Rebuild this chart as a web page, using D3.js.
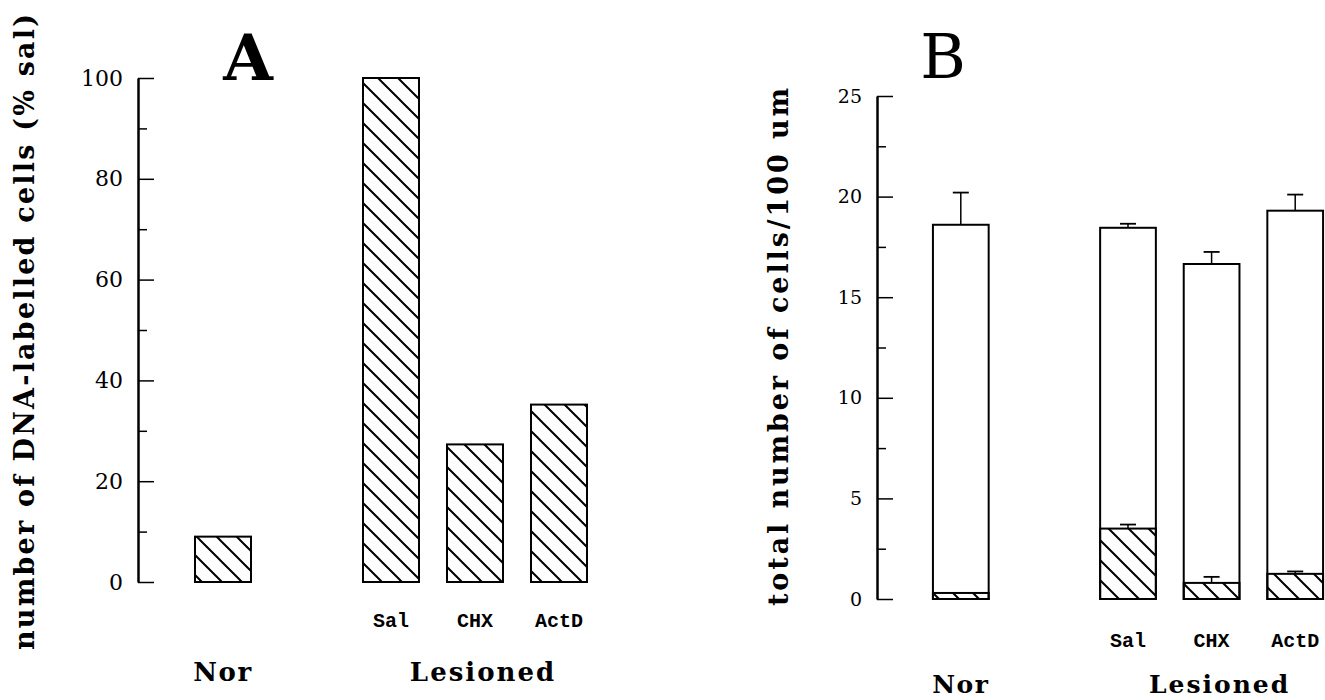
<!DOCTYPE html>
<html lang="en">
  <head>
    <meta charset="UTF-8">
    <script src="https://d3js.org/d3.v7.min.js"></script>
    <title>DNA-labelled cells</title>
    <style>
      body { margin: 0; background: #fff; }
      svg { display: block; }
      .tick text { font-family: "DejaVu Serif", serif; fill: #000; }
      .lbl { font-family: "DejaVu Serif", serif; font-weight: bold; fill: #000; }
      .cat { font-family: "Liberation Mono", monospace; font-weight: bold; font-size: 20px; fill: #000; }
    </style>
  </head>
  <body>
    <div id="chart"></div>
    <script>
      // values
      const groups = ["Nor", "Sal", "CHX", "ActD"];
      const slots = ["Nor", "", "Sal", "CHX", "ActD"];
      const labelledPct = [9, 100, 27.3, 35.2];           // panel A
      const totalCells = [18.6, 18.45, 16.65, 19.3];       // panel B, open bars
      const totalErr = [1.6, 0.2, 0.6, 0.8];
      const labelledCells = [0.3, 3.5, 0.8, 1.25];         // panel B, hatched part
      const labelledErr = [0, 0.2, 0.3, 0.12];
      const ticksA = [0, 20, 40, 60, 80, 100];
      const ticksB = [0, 5, 10, 15, 20, 25];

      const svg = d3.select("#chart").append("svg")
        .attr("width", 1325).attr("height", 700);

      // hatch pattern (\\\)
      svg.append("defs").append("pattern")
        .attr("id", "hatch")
        .attr("patternUnits", "userSpaceOnUse")
        .attr("width", 20).attr("height", 20)
        .append("path")
        .attr("d", "M0,0L20,20M-5,15L5,25M15,-5L25,5")
        .attr("stroke", "#000").attr("stroke-width", 2);

      const drawAxis = (y, ticks, minor, xPos, fontSize) => {
        const g = svg.append("g").attr("transform", `translate(${xPos},0)`);
        g.call(d3.axisLeft(y).tickValues(ticks).tickSizeInner(-16).tickSizeOuter(0).tickPadding(15));
        g.select(".domain").attr("stroke-width", 2.5);
        g.selectAll(".tick line").attr("stroke-width", 1.5);
        g.selectAll(".tick text").style("font-size", fontSize + "px");
        const gm = svg.append("g").attr("transform", `translate(${xPos},0)`);
        gm.call(d3.axisLeft(y).tickValues(minor).tickSizeInner(-9).tickSizeOuter(0).tickFormat(""));
        gm.select(".domain").remove();
        gm.selectAll(".tick line").attr("stroke-width", 1.5);
      };

      // ---------- Panel A ----------
      const xA = d3.scaleBand().domain(slots).range([181, 601]).paddingInner(1 / 3).paddingOuter(1 / 6);
      const yA = d3.scaleLinear().domain([0, 100]).range([582, 78]);
      drawAxis(yA, ticksA, [10, 30, 50, 70, 90], 138, 22);

      svg.selectAll(".barA").data(groups).enter().append("rect")
        .attr("x", d => xA(d))
        .attr("width", xA.bandwidth())
        .attr("y", (d, i) => yA(labelledPct[i]))
        .attr("height", (d, i) => yA(0) - yA(labelledPct[i]))
        .attr("fill", "url(#hatch)")
        .attr("stroke", "#000").attr("stroke-width", 2);

      svg.append("text").attr("class", "lbl")
        .attr("x", 248).attr("y", 80).attr("text-anchor", "middle")
        .style("font-size", "64px").text("A");

      svg.append("text").attr("class", "lbl")
        .attr("transform", "translate(34,332) rotate(-90)")
        .attr("text-anchor", "middle")
        .attr("textLength", 636).attr("lengthAdjust", "spacing")
        .style("font-size", "27px").text("number of DNA-labelled cells (% sal)");

      groups.slice(1).forEach(g => {
        svg.append("text").attr("class", "cat")
          .attr("x", xA(g) + xA.bandwidth() / 2).attr("y", 627)
          .attr("text-anchor", "middle").text(g);
      });
      svg.append("text").attr("class", "lbl")
        .attr("x", xA("Nor") + xA.bandwidth() / 2).attr("y", 681)
        .attr("text-anchor", "middle").style("font-size", "26px")
        .style("letter-spacing", "1.5px").text("Nor");
      svg.append("text").attr("class", "lbl")
        .attr("x", xA("CHX") + xA.bandwidth() / 2 + 8).attr("y", 681)
        .attr("text-anchor", "middle").style("font-size", "26px")
        .style("letter-spacing", "2px").text("Lesioned");

      // ---------- Panel B ----------
      const xB = d3.scaleBand().domain(slots).range([919, 1337]).paddingInner(1 / 3).paddingOuter(1 / 6);
      const yB = d3.scaleLinear().domain([0, 25]).range([599, 96]);
      drawAxis(yB, ticksB, [2.5, 7.5, 12.5, 17.5, 22.5], 877, 19);

      const bars = svg.selectAll(".barB").data(groups).enter().append("g");
      bars.append("rect")
        .attr("x", d => xB(d)).attr("width", xB.bandwidth())
        .attr("y", (d, i) => yB(totalCells[i]))
        .attr("height", (d, i) => yB(0) - yB(totalCells[i]))
        .attr("fill", "#fff").attr("stroke", "#000").attr("stroke-width", 2);
      bars.append("rect")
        .attr("x", d => xB(d)).attr("width", xB.bandwidth())
        .attr("y", (d, i) => yB(labelledCells[i]))
        .attr("height", (d, i) => yB(0) - yB(labelledCells[i]))
        .attr("fill", "url(#hatch)").attr("stroke", "#000").attr("stroke-width", 2);

      const errBar = (cx, v, e) => {
        if (!e) return;
        svg.append("line").attr("x1", cx).attr("x2", cx)
          .attr("y1", yB(v)).attr("y2", yB(v + e))
          .attr("stroke", "#000").attr("stroke-width", 1.5);
        svg.append("line").attr("x1", cx - 8).attr("x2", cx + 8)
          .attr("y1", yB(v + e)).attr("y2", yB(v + e))
          .attr("stroke", "#000").attr("stroke-width", 1.8);
      };
      groups.forEach((g, i) => {
        const cx = xB(g) + xB.bandwidth() / 2;
        errBar(cx, totalCells[i], totalErr[i]);
        errBar(cx, labelledCells[i], labelledErr[i]);
      });

      svg.append("text")
        .attr("x", 943).attr("y", 78).attr("text-anchor", "middle")
        .style("font-family", "DejaVu Serif, serif").style("font-size", "62px").text("B");

      svg.append("text").attr("class", "lbl")
        .attr("transform", "translate(788,347) rotate(-90)")
        .attr("text-anchor", "middle")
        .attr("textLength", 518).attr("lengthAdjust", "spacing")
        .style("font-size", "27px").text("total number of cells/100 um");

      groups.slice(1).forEach(g => {
        svg.append("text").attr("class", "cat")
          .attr("x", xB(g) + xB.bandwidth() / 2).attr("y", 647)
          .attr("text-anchor", "middle").text(g);
      });
      svg.append("text").attr("class", "lbl")
        .attr("x", xB("Nor") + xB.bandwidth() / 2).attr("y", 693)
        .attr("text-anchor", "middle").style("font-size", "25px")
        .style("letter-spacing", "1.5px").text("Nor");
      svg.append("text").attr("class", "lbl")
        .attr("x", xB("CHX") + xB.bandwidth() / 2 + 8).attr("y", 693)
        .attr("text-anchor", "middle").style("font-size", "25px")
        .style("letter-spacing", "2px").text("Lesioned");
    </script>
  </body>
</html>
